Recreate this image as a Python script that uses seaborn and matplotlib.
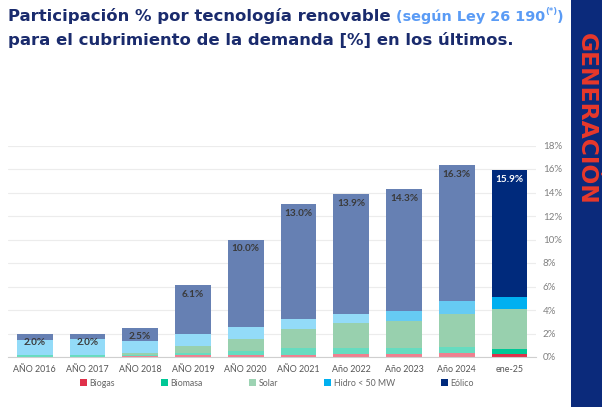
import matplotlib
matplotlib.use("Agg")
import matplotlib.pyplot as plt
from matplotlib.patches import Patch, Rectangle
import numpy as np
import pandas as pd
import seaborn as sns

periods = ["AÑO 2016", "AÑO 2017", "AÑO 2018", "AÑO 2019", "AÑO 2020",
           "AÑO 2021", "Año 2022", "Año 2023", "Año 2024", "ene-25"]
biogas = [0.02, 0.02, 0.05, 0.14, 0.17, 0.20, 0.26, 0.23, 0.34, 0.23]
biomasa = [0.15, 0.15, 0.10, 0.20, 0.32, 0.59, 0.53, 0.50, 0.51, 0.43]
solar = [0.01, 0.03, 0.20, 0.60, 1.04, 1.62, 2.13, 2.34, 2.78, 3.40]
hidro = [1.30, 1.30, 1.02, 1.04, 1.00, 0.85, 0.77, 0.85, 1.11, 1.04]
eolico = [0.52, 0.50, 1.13, 4.12, 7.47, 9.74, 10.21, 10.38, 11.56, 10.80]
total_labels = ["2.0%", "2.0%", "2.5%", "6.1%", "10.0%", "13.0%", "13.9%", "14.3%", "16.3%", "15.9%"]
legend_names = ["Biogas", "Biomasa", "Solar", "Hidro < 50 MW", "Eólico"]

# faded tones for the yearly bars, full tones for the current month
col_eol = ["#6680b3"] * 9 + ["#002a7c"]
col_hid = ["#93dbf8"] * 7 + ["#66cbf3", "#66cbf3"] + ["#00b0f0"]
col_sol = ["#98d0ae"] * 10
col_bio = ["#66dcc0"] * 9 + ["#00c896"]
col_bgs = ["#ef8090"] * 9 + ["#e0304a"]
legend_colors = ["#e0304a", "#00c896", "#9dd3b3", "#00b0f0", "#002a7c"]

df = pd.DataFrame({"period": periods, "biogas": biogas, "biomasa": biomasa,
                   "solar": solar, "hidro": hidro, "eolico": eolico})
df["c1"] = df.biogas
df["c2"] = df.c1 + df.biomasa
df["c3"] = df.c2 + df.solar
df["c4"] = df.c3 + df.hidro
df["c5"] = df.c4 + df.eolico

sns.set_theme(style="white")
plt.rcParams["font.family"] = ["Lato", "DejaVu Sans"]

W, H = 602, 407
fig = plt.figure(figsize=(W / 100, H / 100), dpi=100)
ax = fig.add_axes([8.3 / W, 50 / H, (535.9 - 8.3) / W, (357 - 145.5) / H])

layers = [("c5", col_eol), ("c4", col_hid), ("c3", col_sol), ("c2", col_bio), ("c1", col_bgs)]
for col, pal in layers:
    sns.barplot(data=df, x="period", y=col, hue="period", palette=pal, width=0.68,
                legend=False, ax=ax, linewidth=0, saturation=1)

for i, (top, lab) in enumerate(zip(df.c5, total_labels)):
    ax.annotate(lab, (i, top), xytext=(0, -3.5), textcoords="offset points",
                ha="center", va="top", fontsize=7.2, fontweight="bold",
                color="white" if i == len(periods) - 1 else "#3a3a3a")

ax.set_ylim(0, 18)
ax.set_xlim(-0.5, len(periods) - 0.5)
ax.set_yticks(np.arange(0, 19, 2))
ax.set_yticklabels([f"{v}%" for v in range(0, 19, 2)])
ax.yaxis.tick_right()
ax.tick_params(axis="y", length=0, pad=5, labelsize=7, labelcolor="#808080")
ax.tick_params(axis="x", length=0, pad=6, labelsize=6.4, labelcolor="#555555")
ax.set_xticks(np.arange(-0.5, len(periods), 1), minor=True)
ax.tick_params(axis="x", which="minor", length=3, color="#cccccc", width=0.8)
ax.set_xlabel("")
ax.set_ylabel("")
ax.grid(axis="y", color="#ececec", linewidth=0.8)
ax.set_axisbelow(True)
for s in ["top", "left", "right"]:
    ax.spines[s].set_visible(False)
ax.spines["bottom"].set_color("#cfcfcf")
ax.spines["bottom"].set_linewidth(0.8)

handles = [Patch(facecolor=c, edgecolor="none") for c in legend_colors]
fig.legend(handles, legend_names, loc="center", bbox_to_anchor=(277 / W, 24 / H), ncol=5,
           frameon=False, fontsize=6.3, handlelength=0.8, handleheight=0.8,
           handletextpad=0.25, columnspacing=5.3, labelcolor="#666666")

r = fig.canvas.get_renderer()

# side band
fig.patches.append(Rectangle((570.5 / W, 0), 1 - 570.5 / W, 1, transform=fig.transFigure,
                             facecolor="#0b2a7b", edgecolor="none", zorder=0))
side = fig.text(586 / W, 1 - 119 / H, "GENERACIÓN", rotation=-90, ha="center", va="center",
                fontsize=15, fontweight="bold", color="#e8392b", family="DejaVu Sans")
side.set_fontsize(15 * 172 / side.get_window_extent(r).height)

# title in pieces
dark, light = "#1a2b6d", "#5a9bf5"
tfont = "DejaVu Sans"
t1 = fig.text(8 / W, 1 - 21 / H, "Participación % por tecnología renovable", fontsize=12,
              fontweight="bold", color=dark, va="baseline", family=tfont)
fs = 12 * 381 / t1.get_window_extent(r).width
t1.set_fontsize(fs)
x = t1.get_window_extent(r).x1 + 5
t2 = fig.text(x / W, 1 - 21 / H, "(según Ley 26 190", fontsize=fs * 0.87, fontweight="bold",
              color=light, va="baseline", family=tfont)
x = t2.get_window_extent(r).x1
t3 = fig.text(x / W, 1 - 14 / H, "(*)", fontsize=fs * 0.5, fontweight="bold", color=light,
              va="baseline", family=tfont)
x = t3.get_window_extent(r).x1
fig.text(x / W, 1 - 21 / H, ")", fontsize=fs * 0.87, fontweight="bold", color=light,
         va="baseline", family=tfont)
fig.text(8 / W, 1 - 45 / H, "para el cubrimiento de la demanda [%] en los últimos.", fontsize=fs,
         fontweight="bold", color=dark, va="baseline", family=tfont)

fig.savefig("out.png", dpi=100)
